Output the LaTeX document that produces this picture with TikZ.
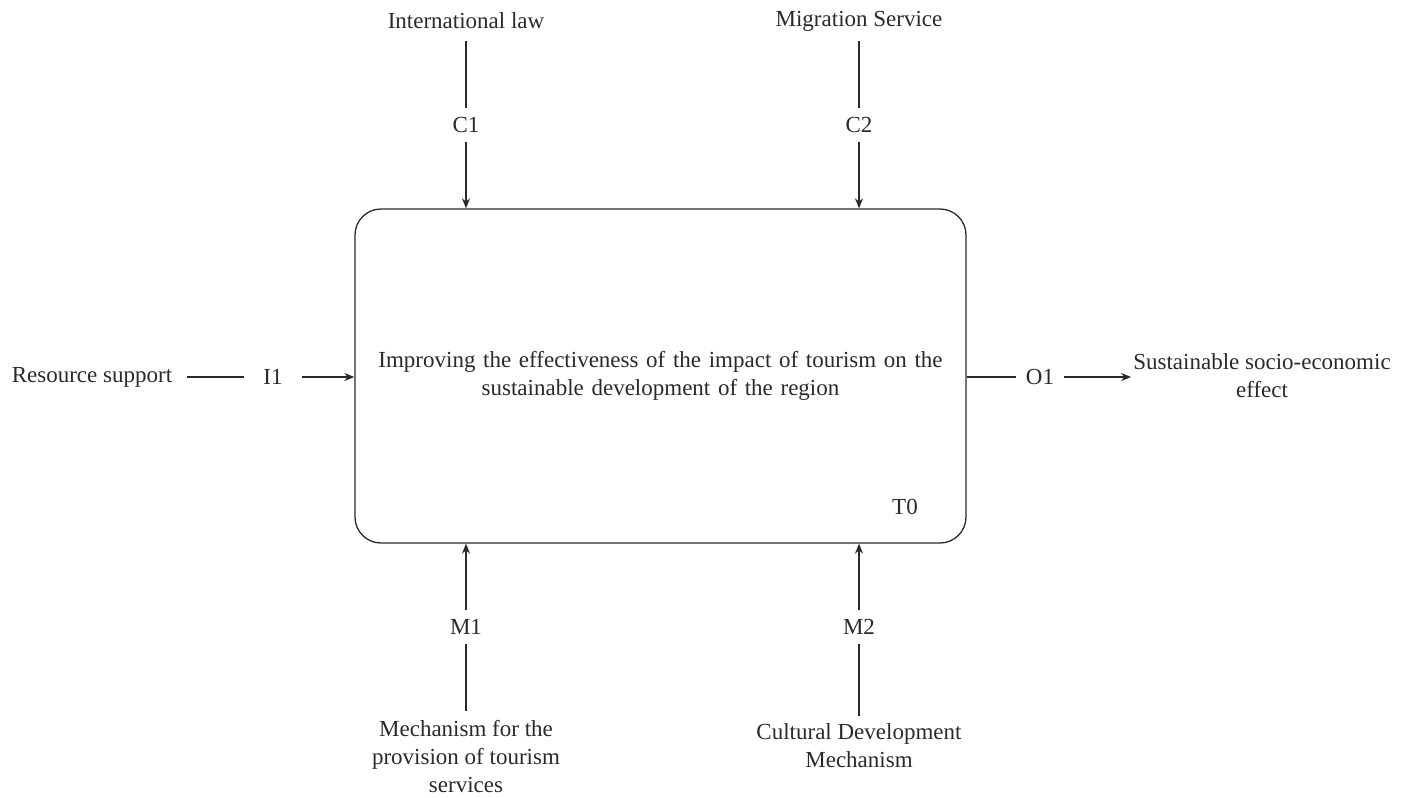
\documentclass[tikz,border=0pt]{standalone}
\usepackage{fontspec}
\setmainfont{Liberation Serif}
\usetikzlibrary{arrows.meta}
\definecolor{ink}{HTML}{2A2A2A}
\tikzset{
  conn/.style={draw=ink, line width=1.2pt},
  arr/.style={conn, -{Stealth[length=10pt,width=8pt]}},
  lbl/.style={text=ink, font=\fontsize{23}{28}\selectfont, inner sep=0pt, align=center},
  code/.style={lbl, inner sep=0pt, minimum height=34pt, minimum width=40pt},
}
\begin{document}
\begin{tikzpicture}[x=1pt,y=-1pt]
\useasboundingbox (0,0) rectangle (1409,798);
\node[draw=ink, line width=1.3pt, rounded corners=26pt, minimum width=611pt, minimum height=334pt, lbl, text width=580pt] (box) at (660.5,376) {Improving the effectiveness of the impact of tourism on the\\sustainable development of the region};
\node[lbl] (t0) at (905,507) {T0};
% controls
\node[lbl] (intl) at (466,21) {International law};
\node[code] (c1) at (466,125) {C1};
\node[lbl] (mig) at (859,21) {Migration Service};
\node[code] (c2) at (859,125) {C2};
\draw[conn] ([yshift=-12pt]intl.south) -- (c1.north);
\draw[arr] (c1.south) -- (c1 |- box.north);
\draw[conn] ([yshift=-10pt]mig.south) -- (c2.north);
\draw[arr] (c2.south) -- (c2 |- box.north);
% input
\node[lbl] (res) at (92,377) {Resource support};
\node[code, minimum width=58pt] (i1) at (273,377) {I1};
\draw[conn] ([xshift=15pt]res.east) -- (i1.west);
\draw[arr] (i1.east) -- (i1 -| box.west);
% output
\node[code, minimum width=48pt] (o1) at (1040,377) {O1};
\node[lbl] (out) at (1262,376) {Sustainable socio-economic\\effect};
\draw[conn] (o1 -| box.east) -- (o1.west);
\draw[arr] (o1.east) -- ([xshift=-2pt]out.west |- o1);
% mechanisms
\node[code] (m1) at (466,627) {M1};
\node[lbl] (mech1) at (466,757) {Mechanism for the\\provision of tourism\\services};
\node[code] (m2) at (859,627) {M2};
\node[lbl] (mech2) at (859,746) {Cultural Development\\Mechanism};
\draw[conn] ([yshift=10pt]mech1.north) -- (m1.south);
\draw[arr] (m1.north) -- (m1 |- box.south);
\draw[conn] ([yshift=8pt]mech2.north) -- (m2.south);
\draw[arr] (m2.north) -- (m2 |- box.south);
\end{tikzpicture}
\end{document}
